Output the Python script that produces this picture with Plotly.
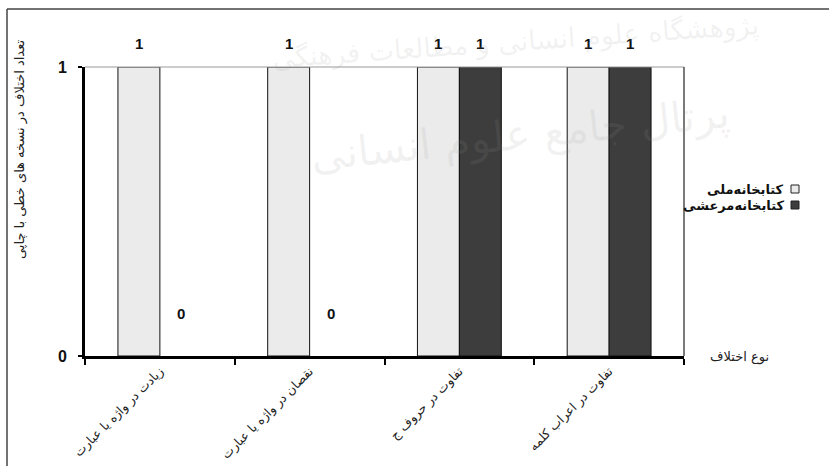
import plotly.graph_objects as go

categories = ["زیادت در واژه یا عبارت", "نقصان در واژه یا عبارت", "تفاوت در حروف ج", "تفاوت در اعراب کلمه"]
series_names = ["کتابخانه‌ملی", "کتابخانه‌مرعشی"]
melli = [1, 1, 1, 1]
marashi = [0, 0, 1, 1]
series_values = [melli, marashi]
y_ticks = [0, 1]
y_title = "تعداد اختلاف در نسخه های خطی با چاپی"
x_title = "نوع اختلاف"

W, H = 829, 466
L, R, T, B = 85, 145, 67, 110
pw, ph = W - L - R, H - T - B

fills = ["#ebebeb", "#3d3d3d"]
font = "DejaVu Sans"

fig = go.Figure()
for name, vals, col in zip(series_names, series_values, fills):
    fig.add_trace(go.Bar(
        x=categories, y=vals, name=name, showlegend=False,
        marker=dict(color=col, line=dict(color="#111", width=[1 if v > 0 else 0 for v in vals])),
    ))

# value labels
cat_w = pw / len(categories)
bar_w = cat_w * 0.28
annotations = []
for si, vals in enumerate(series_values):
    off = (si - 0.5) * bar_w
    for c, v in zip(categories, vals):
        annotations.append(dict(
            x=c, y=v, xref="x", yref="y", text=f"<b>{v}</b>", showarrow=False,
            xshift=off, yshift=24 if v > 0 else 43,
            font=dict(family="Arial", size=15, color="#111"),
        ))

def px2x(px):
    return (px - L) / pw

def py2y(py):
    return (H - B - py) / ph

annotations.append(dict(
    x=px2x(20), y=py2y(150), xref="paper", yref="paper", text=y_title,
    xanchor="center", yanchor="middle",
    textangle=-90, showarrow=False, font=dict(family=font, size=13, color="#222"),
))
annotations.append(dict(
    x=px2x(739), y=py2y(357), xref="paper", yref="paper", text=x_title,
    xanchor="center", yanchor="middle",
    showarrow=False, font=dict(family=font, size=13, color="#222"),
))
# faint watermark
annotations.append(dict(
    x=px2x(515), y=py2y(42), xref="paper", yref="paper",
    xanchor="center", yanchor="middle",
    text="پژوهشگاه علوم انسانی و مطالعات فرهنگی", textangle=-4,
    showarrow=False, font=dict(family=font, size=27, color="rgba(150,150,150,0.12)"),
))
annotations.append(dict(
    x=px2x(520), y=py2y(135), xref="paper", yref="paper",
    xanchor="center", yanchor="middle",
    text="پرتال جامع علوم انسانی", textangle=-6,
    showarrow=False, font=dict(family=font, size=42, color="rgba(150,150,150,0.12)"),
))

shapes = [
    dict(type="line", xref="paper", yref="paper", x0=px2x(7), x1=px2x(829), y0=py2y(9), y1=py2y(9),
         line=dict(color="#444", width=1.5)),
    dict(type="line", xref="paper", yref="paper", x0=px2x(7), x1=px2x(7), y0=py2y(9), y1=py2y(466),
         line=dict(color="#444", width=1.5)),
    dict(type="line", xref="paper", yref="paper", x0=0, x1=1, y0=1, y1=1,
         line=dict(color="#999", width=1)),
    dict(type="line", xref="paper", yref="paper", x0=1, x1=1, y0=0, y1=1,
         line=dict(color="#222", width=1.2)),
]

# legend (RTL: marker to the right of the name)
leg_y = [189, 205]
for name, col, yy in zip(series_names, fills, leg_y):
    annotations.append(dict(
        x=px2x(786), y=py2y(yy), xref="paper", yref="paper", text=f"<b>{name}</b>",
        xanchor="right", yanchor="middle", showarrow=False,
        font=dict(family=font, size=13, color="#111"),
    ))
    shapes.append(dict(
        type="rect", xref="paper", yref="paper",
        x0=px2x(791), x1=px2x(799), y0=py2y(yy + 4), y1=py2y(yy - 4),
        fillcolor=col, line=dict(color="#222", width=1),
    ))

fig.update_layout(
    width=W, height=H,
    margin=dict(l=L, r=R, t=T, b=B, autoexpand=False),
    paper_bgcolor="white", plot_bgcolor="white",
    barmode="group", bargap=0.44, bargroupgap=0,
    showlegend=False,
    annotations=annotations, shapes=shapes,
    xaxis=dict(
        showline=True, linecolor="#000", linewidth=3,
        ticks="outside", tickson="boundaries", ticklen=6, tickwidth=2, tickcolor="#000",
        tickangle=-45, tickfont=dict(family=font, size=12.5, color="#222"),
        showgrid=False, zeroline=False, automargin=False,
    ),
    yaxis=dict(
        range=[0, 1], tickvals=y_ticks, ticktext=[f"<b>{v}</b>" for v in y_ticks],
        showline=True, linecolor="#000", linewidth=3,
        ticks="outside", ticklen=4, tickwidth=2, tickcolor="#000",
        tickfont=dict(family="Arial", size=16, color="#111"), ticklabelstandoff=8,
        showgrid=False, zeroline=False, automargin=False,
    ),
)

fig.write_html("out.html", config={"displayModeBar": False},
               post_script="document.body.style.margin='0';document.body.style.overflow='hidden';")
